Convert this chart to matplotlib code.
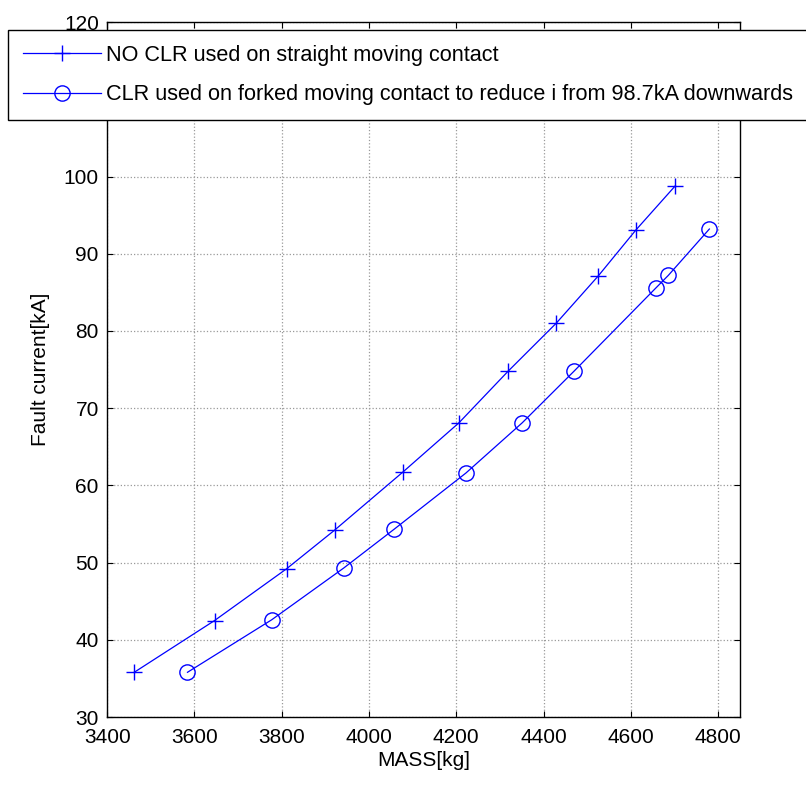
import matplotlib.pyplot as plt

# --- data ---
mass_straight = [3462, 3646, 3811, 3921, 4077, 4206, 4319, 4429, 4525, 4612, 4702]
current_straight = [35.8, 42.5, 49.2, 54.2, 61.7, 68.1, 74.8, 81.0, 87.1, 93.1, 98.8]

mass_forked = [3584, 3777, 3942, 4057, 4222, 4351, 4470, 4658, 4686, 4780]
current_forked = [35.8, 42.6, 49.3, 54.3, 61.6, 68.1, 74.8, 85.6, 87.2, 93.2]

x_ticks = [3400, 3600, 3800, 4000, 4200, 4400, 4600, 4800]
y_ticks = [30, 40, 50, 60, 70, 80, 90, 100, 110, 120]

label_straight = "NO CLR used on straight moving contact"
label_forked = "CLR used on forked moving contact to reduce i from 98.7kA downwards"

plt.rcParams['font.family'] = ['Liberation Sans', 'DejaVu Sans']

fig = plt.figure(figsize=(8.06, 7.88), dpi=100)
ax = fig.add_axes([0.133, 0.090, 0.785, 0.882])

ax.plot(mass_straight, current_straight, color='#0000ff', lw=0.9,
        marker='+', markersize=12, markeredgewidth=1.0, label=label_straight)
ax.plot(mass_forked, current_forked, color='#0000ff', lw=0.9,
        marker='o', markersize=11, markerfacecolor='none', markeredgewidth=1.0,
        label=label_forked)

ax.set_xlim(3400, 4850)
ax.set_ylim(30, 120)
ax.set_xticks(x_ticks)
ax.set_yticks(y_ticks)
ax.tick_params(direction='in', length=4, labelsize=15, right=True, top=True)
ax.tick_params(axis='x', pad=8)
ax.tick_params(axis='y', pad=6)
ax.grid(True, color='#999999', linestyle=':', linewidth=0.9)
for s in ax.spines.values():
    s.set_linewidth(1.0)

ax.set_xlabel("MASS[kg]", fontsize=15, labelpad=3)
ax.set_ylabel("Fault current[kA]", fontsize=15, labelpad=10)

# legend box runs off the right edge, as in the original figure
leg = fig.legend(loc='upper left', bbox_to_anchor=(0.01, 0.962), fontsize=15.6,
                 fancybox=False, framealpha=1, edgecolor='black',
                 handlelength=3.6, handletextpad=0.25, borderaxespad=0,
                 borderpad=0.68, labelspacing=0.85)
leg.get_frame().set_linewidth(1.0)

fig.savefig("out.png", dpi=100)
